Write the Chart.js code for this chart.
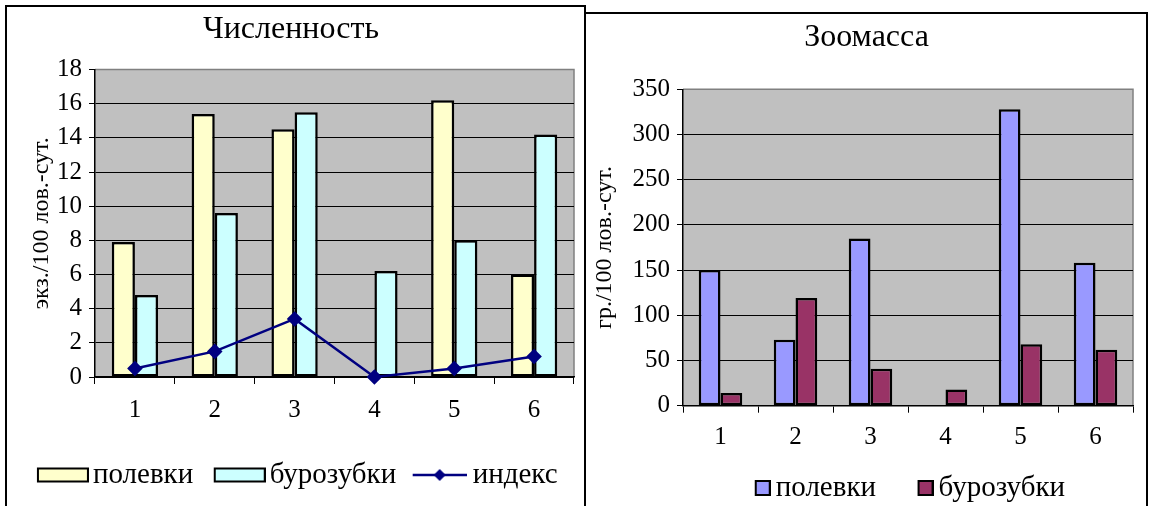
<!DOCTYPE html>
<html>
<head>
<meta charset="utf-8">
<script src="https://cdn.jsdelivr.net/npm/chart.js@4.4.1/dist/chart.umd.min.js"></script>
<style>
  html, body { margin: 0; padding: 0; background: #fff; overflow: hidden; }
  body { position: relative; width: 1152px; height: 506px; }
  .frame { position: absolute; border: 2px solid #000; box-sizing: border-box; }
  #f1 { left: 5px; top: 5px; width: 581px; height: 600px; }
  #f2 { left: 584px; top: 12px; width: 564px; height: 600px; }
  canvas { position: absolute; top: 0; }
  #countChart { left: 0; }
  #massChart { left: 584px; }
</style>
</head>
<body>
<div class="frame" id="f1"></div>
<div class="frame" id="f2"></div>
<canvas id="countChart" width="584" height="520"></canvas>
<canvas id="massChart" width="568" height="520"></canvas>
<script>
// данные
const categories = ['1', '2', '3', '4', '5', '6'];
const volesCount = [7.9, 15.4, 14.5, 0, 16.2, 6.0];
const shrewsCount = [4.8, 9.6, 15.5, 6.2, 8.0, 14.2];
const indexValues = [0.5, 1.5, 3.4, 0, 0.5, 1.2];
const volesMass = [150, 73, 185, 0, 328, 158];
const shrewsMass = [14, 119, 41, 18, 68, 62];

Chart.defaults.font.family = "'Liberation Serif', 'Times New Roman', serif";
Chart.defaults.color = '#000';
Chart.defaults.animation = false;

const LEGEND_FONT = 29;

// серый фон области построения
const plotBg = {
  id: 'plotBg',
  beforeDraw(chart) {
    const { ctx, chartArea: a } = chart;
    ctx.save();
    ctx.fillStyle = '#c0c0c0';
    ctx.fillRect(a.left, a.top, a.right - a.left, a.bottom - a.top);
    ctx.strokeStyle = '#808080';
    ctx.lineWidth = 1.5;
    ctx.beginPath();
    ctx.moveTo(a.left, a.top);
    ctx.lineTo(a.right, a.top);
    ctx.lineTo(a.right, a.bottom);
    ctx.stroke();
    ctx.restore();
  }
};

// значок легенды: рисунок прижат вправо, чтобы текст шёл сразу за ним
function legendIcon(w, gap, styleWidth, draw) {
  const c = document.createElement('canvas');
  c.width = styleWidth + LEGEND_FONT - 2 * gap;
  c.height = 28;
  draw(c.getContext('2d'), c.width - w, c.height / 2);
  return c;
}

function boxIcon(color, w, h, gap, styleWidth) {
  return legendIcon(w, gap, styleWidth, (g, x0, cy) => {
    g.fillStyle = color;
    g.strokeStyle = '#000';
    g.lineWidth = 2;
    g.fillRect(x0 + 1, cy - h / 2 + 1, w - 2, h - 2);
    g.strokeRect(x0 + 1, cy - h / 2 + 1, w - 2, h - 2);
  });
}

function lineIcon(color, w, gap, styleWidth) {
  return legendIcon(w, gap, styleWidth, (g, x0, cy) => {
    g.strokeStyle = color;
    g.lineWidth = 2.5;
    g.beginPath();
    g.moveTo(x0, cy);
    g.lineTo(x0 + w, cy);
    g.stroke();
    const cx = x0 + w / 2, r = 6;
    g.fillStyle = color;
    g.beginPath();
    g.moveTo(cx, cy - r);
    g.lineTo(cx + r, cy);
    g.lineTo(cx, cy + r);
    g.lineTo(cx - r, cy);
    g.closePath();
    g.fill();
  });
}

function legendItem(text, icon, i) {
  return { text: text, pointStyle: icon, fillStyle: '#000', strokeStyle: '#000', lineWidth: 0, hidden: false, datasetIndex: i, fontColor: '#000' };
}

const gridColor = max => ctx => (ctx.tick && ctx.tick.value === max) ? 'rgba(0,0,0,0)' : '#000';

// Численность
new Chart(document.getElementById('countChart'), {
  type: 'bar',
  data: {
    labels: categories,
    datasets: [
      {
        type: 'line',
        label: 'индекс',
        data: indexValues,
        order: 0,
        borderColor: '#000080',
        borderWidth: 2.5,
        backgroundColor: '#000080',
        pointStyle: 'rectRot',
        pointRadius: 6,
        pointBackgroundColor: '#000080',
        pointBorderColor: '#000080',
        tension: 0,
        clip: false
      },
      {
        label: 'полевки',
        data: volesCount,
        order: 1,
        backgroundColor: '#ffffcc',
        borderColor: '#000',
        borderWidth: 2.5,
        borderSkipped: false
      },
      {
        label: 'бурозубки',
        data: shrewsCount,
        order: 1,
        backgroundColor: '#ccffff',
        borderColor: '#000',
        borderWidth: 2.5,
        borderSkipped: false
      }
    ]
  },
  options: {
    responsive: false,
    categoryPercentage: 0.58,
    barPercentage: 1,
    layout: { padding: { left: 8, right: 10, top: 0, bottom: 20.5 } },
    plugins: {
      title: {
        display: true,
        text: 'Численность',
        font: { size: 32, weight: 'normal' },
        color: '#000',
        padding: { top: 10.8, bottom: 20.3 }
      },
      legend: {
        position: 'bottom',
        labels: {
          usePointStyle: true,
          pointStyleWidth: 54,
          padding: 8,
          font: { size: LEGEND_FONT },
          color: '#000',
          generateLabels: () => [
            legendItem('полевки', boxIcon('#ffffcc', 52, 15, 4, 54), 1),
            legendItem('бурозубки', boxIcon('#ccffff', 52, 15, 4, 54), 2),
            legendItem('индекс', lineIcon('#000080', 54, 6, 54), 0)
          ]
        }
      },
      tooltip: { enabled: false }
    },
    scales: {
      x: {
        grid: { offset: true, drawOnChartArea: false, tickLength: 7, color: '#000', lineWidth: 1 },
        border: { display: true, color: '#000', width: 1.5 },
        ticks: { font: { size: 25 }, padding: 11, color: '#000' },
        afterFit: s => { s.height = 75.5; }
      },
      y: {
        min: 0,
        max: 18,
        ticks: { stepSize: 2, autoSkip: false, font: { size: 25 }, padding: 7, color: '#000' },
        grid: { color: gridColor(18), tickColor: '#000', lineWidth: 1, tickLength: 6 },
        border: { display: true, color: '#000', width: 1.5 },
        title: { display: true, text: 'экз./100 лов.-сут.', font: { size: 24 }, color: '#000', padding: { top: 19.6, bottom: 0 } },
        afterFit: s => { s.width = 87; }
      }
    }
  },
  plugins: [plotBg]
});

// Зоомасса
new Chart(document.getElementById('massChart'), {
  type: 'bar',
  data: {
    labels: categories,
    datasets: [
      {
        label: 'полевки',
        data: volesMass,
        backgroundColor: '#9999ff',
        borderColor: '#000',
        borderWidth: 2.5,
        borderSkipped: false
      },
      {
        label: 'бурозубки',
        data: shrewsMass,
        backgroundColor: '#993366',
        borderColor: '#000',
        borderWidth: 2.5,
        borderSkipped: false
      }
    ]
  },
  options: {
    responsive: false,
    categoryPercentage: 0.58,
    barPercentage: 1,
    layout: { padding: { left: 0, right: 19, top: 0, bottom: 7.5 } },
    plugins: {
      title: {
        display: true,
        text: '  Зоомасса',
        font: { size: 32, weight: 'normal' },
        color: '#000',
        padding: { top: 18.8, bottom: 32.1 }
      },
      legend: {
        position: 'bottom',
        fullSize: false,
        labels: {
          usePointStyle: true,
          pointStyleWidth: 32,
          padding: 16,
          font: { size: LEGEND_FONT },
          color: '#000',
          generateLabels: () => [
            legendItem('полевки', boxIcon('#9999ff', 16, 16, 5, 32), 0),
            legendItem('бурозубки   ', boxIcon('#993366', 16, 16, 5, 32), 1)
          ]
        }
      },
      tooltip: { enabled: false }
    },
    scales: {
      x: {
        grid: { offset: true, drawOnChartArea: false, tickLength: 7, color: '#000', lineWidth: 1 },
        border: { display: true, color: '#000', width: 1.5 },
        ticks: { font: { size: 25 }, padding: 10, color: '#000' },
        afterFit: s => { s.height = 51.8; }
      },
      y: {
        min: 0,
        max: 350,
        ticks: { stepSize: 50, autoSkip: false, font: { size: 25 }, padding: 7, color: '#000' },
        grid: { color: gridColor(350), tickColor: '#000', lineWidth: 1, tickLength: 6 },
        border: { display: true, color: '#000', width: 1.5 },
        title: { display: true, text: 'гр./100 лов.-сут.', font: { size: 24 }, color: '#000', padding: { top: 6.6, bottom: 0 } },
        afterFit: s => { s.width = 99; }
      }
    }
  },
  plugins: [plotBg]
});
</script>
</body>
</html>
